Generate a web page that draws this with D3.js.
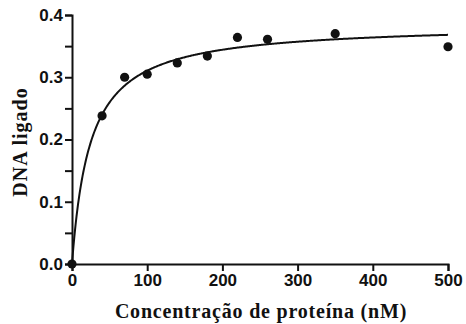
<!DOCTYPE html>
<html>
<head>
<meta charset="utf-8">
<script src="https://cdn.jsdelivr.net/npm/d3@7"></script>
<style>
  body { margin: 0; background: #fff; }
  svg { display: block; }
</style>
</head>
<body>
<div id="chart"></div>
<script>
// measured binding data
const concentration = [0, 40, 70, 100, 140, 180, 220, 260, 350, 500];
const dnaBound = [0, 0.238, 0.300, 0.305, 0.323, 0.334, 0.364, 0.361, 0.370, 0.349];
const xTicks = [0, 100, 200, 300, 400, 500];
const yTicks = [0, 0.1, 0.2, 0.3, 0.4];
const yMinorTicks = [0.05, 0.15, 0.25, 0.35];
// one-site binding fit
const bmax = 0.386;
const kd = 24.3;

const width = 466, height = 324;
const margin = { left: 72, right: 18, top: 15, bottom: 60 };

const svg = d3.select("#chart").append("svg")
    .attr("width", width)
    .attr("height", height);

const x = d3.scaleLinear().domain([0, 500]).range([margin.left, width - margin.right]);
const y = d3.scaleLinear().domain([0, 0.4]).range([height - margin.bottom, margin.top]);

// fitted curve
const fitX = d3.range(0, 501, 1);
const line = d3.line()
    .x(d => x(d))
    .y(d => y(bmax * d / (kd + d)));

svg.append("path")
    .datum(fitX)
    .attr("d", line)
    .attr("fill", "none")
    .attr("stroke", "#111")
    .attr("stroke-width", 2);

// axes
svg.append("g")
    .attr("transform", `translate(${margin.left},0)`)
    .call(d3.axisLeft(y).tickValues(yTicks).tickFormat(d3.format(".1f")).tickSize(7).tickPadding(2));

svg.append("g")
    .attr("transform", `translate(${margin.left},0)`)
    .call(d3.axisLeft(y).tickValues(yMinorTicks).tickFormat("").tickSize(7))
    .call(g => g.select(".domain").remove());

svg.append("g")
    .attr("transform", `translate(0,${height - margin.bottom})`)
    .call(d3.axisBottom(x).tickValues(xTicks).tickSize(7).tickPadding(3));

svg.selectAll(".domain").attr("stroke", "#111").attr("stroke-width", 2);
svg.selectAll(".tick line").attr("stroke", "#111").attr("stroke-width", 2);
svg.selectAll(".tick text")
    .attr("fill", "#111")
    .style("font-family", "'Liberation Sans', Arial, sans-serif")
    .style("font-weight", "bold")
    .style("font-size", "17px");

// data points
svg.selectAll(".dot")
    .data(concentration)
    .enter().append("circle")
    .attr("class", "dot")
    .attr("cx", d => x(d))
    .attr("cy", (d, i) => y(dnaBound[i]))
    .attr("r", 4.6)
    .attr("fill", "#111");

// axis titles
svg.append("text")
    .attr("x", 261)
    .attr("y", 318)
    .attr("text-anchor", "middle")
    .style("font-family", "'Liberation Serif', 'Times New Roman', serif")
    .style("font-weight", "bold")
    .style("font-size", "20px")
    .style("letter-spacing", "0.8px")
    .attr("fill", "#111")
    .text("Concentração de proteína (nM)");

svg.append("text")
    .attr("transform", "translate(27,142) rotate(-90)")
    .attr("text-anchor", "middle")
    .style("font-family", "'Liberation Serif', 'Times New Roman', serif")
    .style("font-weight", "bold")
    .style("font-size", "20px")
    .style("letter-spacing", "1px")
    .attr("fill", "#111")
    .text("DNA ligado");
</script>
</body>
</html>
